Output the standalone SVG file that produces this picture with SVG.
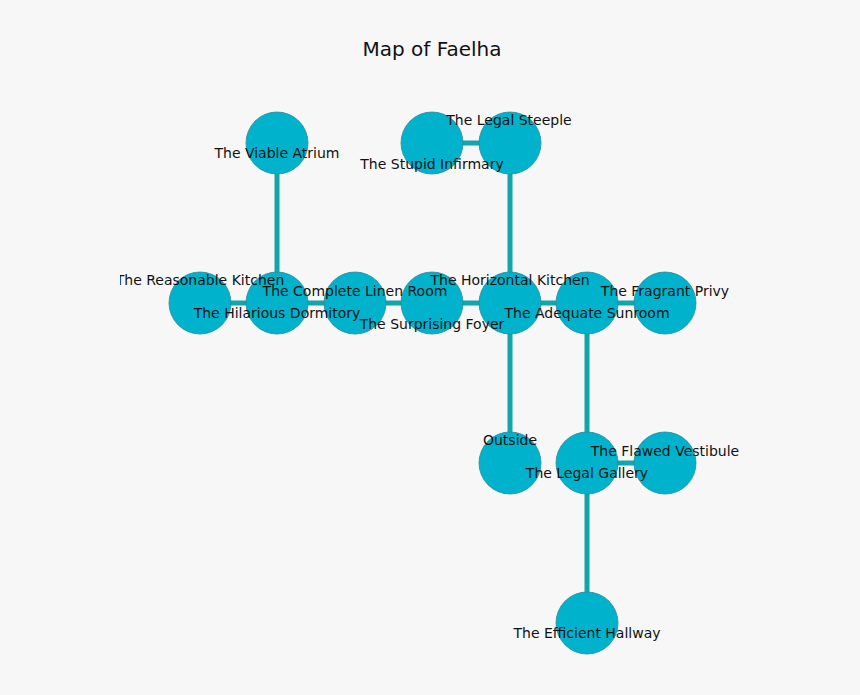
<svg xmlns="http://www.w3.org/2000/svg" width="860" height="695" viewBox="0 0 860 695">
<style>
.bg{fill:#f7f7f7}
.edge{stroke:#12a6aa;stroke-width:5;fill:none}
.node circle{fill:#00b2cc;stroke:#2b8a9a;stroke-width:0.8}
.lbl{font-family:"DejaVu Sans",sans-serif;font-size:14px;fill:#111;text-anchor:middle}
.title{font-family:"DejaVu Sans",sans-serif;font-size:20px;fill:#111;text-anchor:middle}
</style>
<defs>
<clipPath id="clip"><rect x="120" y="0" width="740" height="695"/></clipPath>
</defs>
<rect class="bg" x="0" y="0" width="860" height="695"/>
<text class="title" x="432" y="56">Map of Faelha</text>
<g id="connectors">
<line class="edge" x1="277" y1="143" x2="277" y2="303"/>
<line class="edge" x1="200" y1="303" x2="277" y2="303"/>
<line class="edge" x1="277" y1="303" x2="355" y2="303"/>
<line class="edge" x1="355" y1="303" x2="432" y2="303"/>
<line class="edge" x1="432" y1="303" x2="510" y2="303"/>
<line class="edge" x1="510" y1="303" x2="587" y2="303"/>
<line class="edge" x1="587" y1="303" x2="665" y2="303"/>
<line class="edge" x1="510" y1="303" x2="510" y2="143"/>
<line class="edge" x1="432" y1="143" x2="510" y2="143"/>
<line class="edge" x1="510" y1="303" x2="510" y2="463"/>
<line class="edge" x1="587" y1="303" x2="587" y2="463"/>
<line class="edge" x1="587" y1="463" x2="665" y2="463"/>
<line class="edge" x1="587" y1="463" x2="587" y2="623"/>
</g>
<g id="n-atrium" class="node"><circle cx="277" cy="143" r="31"/></g>
<g id="n-stupid" class="node"><circle cx="432" cy="143" r="31"/></g>
<g id="n-steeple" class="node"><circle cx="510" cy="143" r="31"/></g>
<g id="n-reasonable" class="node"><circle cx="200" cy="303" r="31"/></g>
<g id="n-hilarious" class="node"><circle cx="277" cy="303" r="31"/></g>
<g id="n-linen" class="node"><circle cx="355" cy="303" r="31"/></g>
<g id="n-foyer" class="node"><circle cx="432" cy="303" r="31"/></g>
<g id="n-horizontal" class="node"><circle cx="510" cy="303" r="31"/></g>
<g id="n-sunroom" class="node"><circle cx="587" cy="303" r="31"/></g>
<g id="n-privy" class="node"><circle cx="665" cy="303" r="31"/></g>
<g id="n-outside" class="node"><circle cx="510" cy="463" r="31"/></g>
<g id="n-gallery" class="node"><circle cx="587" cy="463" r="31"/></g>
<g id="n-vestibule" class="node"><circle cx="665" cy="463" r="31"/></g>
<g id="n-hallway" class="node"><circle cx="587" cy="623" r="31"/></g>
<g id="labels">
<text class="lbl" x="277" y="158">The Viable Atrium</text>
<text class="lbl" x="509" y="125">The Legal Steeple</text>
<text class="lbl" x="432" y="169">The Stupid Infirmary</text>
<text class="lbl" x="200" y="285" clip-path="url(#clip)">The Reasonable Kitchen</text>
<text class="lbl" x="277" y="318">The Hilarious Dormitory</text>
<text class="lbl" x="355" y="296">The Complete Linen Room</text>
<text class="lbl" x="432" y="329">The Surprising Foyer</text>
<text class="lbl" x="510" y="285">The Horizontal Kitchen</text>
<text class="lbl" x="587" y="318">The Adequate Sunroom</text>
<text class="lbl" x="665" y="296">The Fragrant Privy</text>
<text class="lbl" x="510" y="445">Outside</text>
<text class="lbl" x="587" y="478">The Legal Gallery</text>
<text class="lbl" x="665" y="456">The Flawed Vestibule</text>
<text class="lbl" x="587" y="638">The Efficient Hallway</text>
</g>
</svg>
